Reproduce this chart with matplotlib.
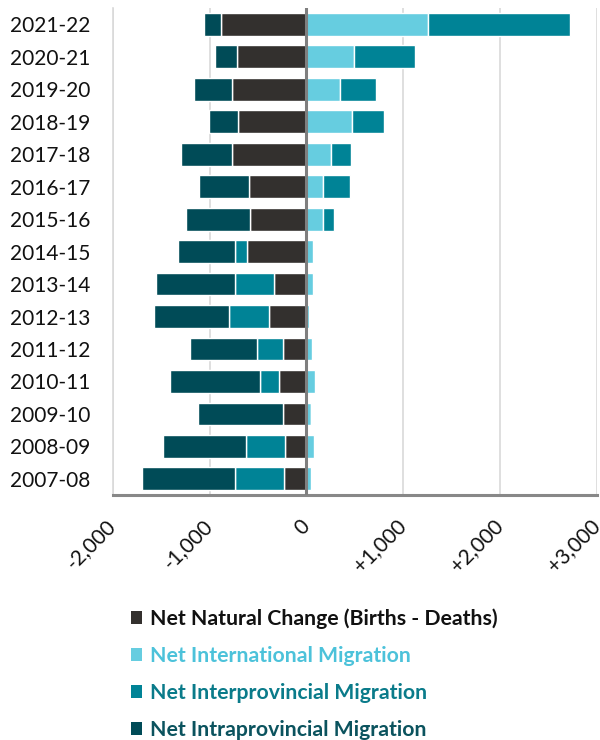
"""
Components of population change, 2007-08 to 2021-22.
Diverging stacked horizontal bar chart.
"""

import matplotlib.pyplot as plt
import numpy as np
from matplotlib.patches import Patch
from matplotlib.ticker import FuncFormatter

YEARS = [
    "2007-08", "2008-09", "2009-10", "2010-11", "2011-12", "2012-13", "2013-14", "2014-15",
    "2015-16", "2016-17", "2017-18", "2018-19", "2019-20", "2020-21", "2021-22",
]
NATURAL = [-228, -221, -242, -283, -238, -390, -338, -610, -586, -597, -765, -707, -765, -714, -879]
INTERNATIONAL = [44, 75, 44, 86, 52, 24, 65, 65, 172, 172, 251, 472, 344, 489, 1251]
INTERPROVINCIAL = [-514, -406, 0, -193, -273, -413, -396, -124, 114, 276, 207, 331, 369, 631, 1472]
INTRAPROVINCIAL = [-958, -858, -879, -937, -696, -772, -821, -597, -659, -510, -532, -303, -397, -228, -175]

LABELS = [
    "Net Natural Change (Births - Deaths)",
    "Net International Migration",
    "Net Interprovincial Migration",
    "Net Intraprovincial Migration",
]
BAR_COLORS = ["#33302e", "#66cde0", "#008396", "#004b57"]
TEXT_COLORS = ["#111111", "#4cc2da", "#0a7b8a", "#0b535e"]

FONT = "Lato"


def signed_thousands(x, _pos):
    if x == 0:
        return "0"
    sign = "+" if x > 0 else "-"
    return f"{sign}{abs(x):,.0f}"


def main() -> None:
    plt.rcParams["font.family"] = [FONT, "DejaVu Sans"]

    fig = plt.figure(figsize=(6, 7.4), dpi=100)
    ax = fig.add_axes([0.188, 0.331, 0.807, 0.658])

    y = np.arange(len(YEARS))
    series = [NATURAL, INTERNATIONAL, INTERPROVINCIAL, INTRAPROVINCIAL]
    pos_base = np.zeros(len(YEARS))
    neg_base = np.zeros(len(YEARS))
    for values, color in zip(series, BAR_COLORS):
        vals = np.array(values, dtype=float)
        base = np.where(vals >= 0, pos_base, neg_base)
        ax.barh(y, vals, left=base, height=0.7, color=color, edgecolor="white", linewidth=1, zorder=2)
        pos_base += np.clip(vals, 0, None)
        neg_base += np.clip(vals, None, 0)

    ax.set_xlim(-2000, 3000)
    ax.set_ylim(-0.5, len(YEARS) - 0.5)
    ax.set_xticks([-2000, -1000, 0, 1000, 2000, 3000])
    ax.xaxis.set_major_formatter(FuncFormatter(signed_thousands))
    ax.set_yticks(y)
    ax.set_yticklabels(YEARS)

    ax.grid(axis="x", color="#d9d9d9", linewidth=1.2, zorder=0)
    ax.grid(axis="y", visible=False)
    ax.axvline(0, color="#7f7f7f", linewidth=2.2, zorder=3)

    for side in ["top", "right"]:
        ax.spines[side].set_visible(False)
    ax.spines["left"].set_color("#d9d9d9")
    ax.spines["left"].set_linewidth(1.2)
    ax.spines["bottom"].set_color("#888888")
    ax.spines["bottom"].set_linewidth(2.2)

    ax.tick_params(axis="y", length=0, pad=16, labelsize=15, labelcolor="#111111")
    ax.tick_params(axis="x", length=0, pad=20, labelsize=15, labelcolor="#111111")
    for lbl in ax.get_xticklabels():
        lbl.set_rotation(45)
        lbl.set_rotation_mode("anchor")
        lbl.set_ha("right")
        lbl.set_va("center")

    handles = [Patch(facecolor=c, edgecolor="none") for c in BAR_COLORS]
    leg = fig.legend(
        handles,
        LABELS,
        loc="upper left",
        bbox_to_anchor=(0.218, 0.178),
        frameon=False,
        prop={"family": FONT, "weight": "bold", "size": 15.3},
        handlelength=0.55,
        handleheight=0.55,
        handletextpad=0.35,
        labelspacing=0.8,
        borderaxespad=0,
        borderpad=0,
    )
    for text, color in zip(leg.get_texts(), TEXT_COLORS):
        text.set_color(color)

    fig.savefig("out.png", dpi=100)
    plt.close(fig)


if __name__ == "__main__":
    main()
